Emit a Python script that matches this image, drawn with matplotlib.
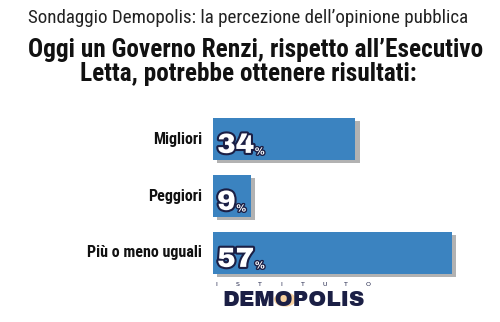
import matplotlib
matplotlib.use("Agg")
import matplotlib.pyplot as plt
import matplotlib.patheffects as pe
from matplotlib.patches import Circle

categories = ["Migliori", "Peggiori", "Più o meno uguali"]
values = [34, 9, 57]

subtitle = "Sondaggio Demopolis: la percezione dell\u2019opinione pubblica"
title_lines = ["Oggi un Governo Renzi, rispetto all\u2019Esecutivo",
               "Letta, potrebbe ottenere risultati:"]

bar_color = "#3b83c0"
navy = "#1b1f45"
narrow = ["Roboto Condensed", "Archivo Narrow", "DejaVu Sans"]
black = ["Archivo Black", "DejaVu Sans"]

W, H = 500, 322
fig = plt.figure(figsize=(W / 100, H / 100), dpi=100)
fig.patch.set_facecolor("white")

# bars area: left edge at x=213px, 4.19 px per percent
left, right = 213, 213 + 60 * 4.19
top, bottom = 110.5, 281.5
ax = fig.add_axes([left / W, 1 - bottom / H, (right - left) / W, (bottom - top) / H])
ax.set_xlim(0, 60)
ax.set_ylim(2.5, -0.5)
ax.axis("off")

ypos = list(range(len(categories)))
bars = ax.barh(ypos, values, height=0.74, color=bar_color, zorder=2)
for b in bars:
    b.set_path_effects([pe.SimplePatchShadow(offset=(3, -2), shadow_rgbFace="#555555", alpha=0.45),
                        pe.Normal()])

for y, cat, v in zip(ypos, categories, values):
    ax.annotate(cat, xy=(0, y), xytext=(-8, 0), textcoords="offset points",
                ha="right", va="center", fontsize=11.5, fontweight="bold",
                family=narrow, color="#111111")
    num = ax.annotate(str(v), xy=(0, y), xytext=(3, -10), textcoords="offset points",
                      ha="left", va="baseline", fontsize=20, fontweight="heavy",
                      family=black, color="white", zorder=5,
                      path_effects=[pe.Stroke(linewidth=3, foreground=navy), pe.Normal()])
    ax.annotate("%", xy=(1, 0), xycoords=num, xytext=(0.5, 1), textcoords="offset points",
                ha="left", va="bottom", fontsize=7, fontweight="bold", color="white", zorder=5,
                path_effects=[pe.Stroke(linewidth=2, foreground=navy), pe.Normal()])

fig.text(248.5 / W, 1 - 18 / H, subtitle, ha="center", va="center",
         fontsize=13.7, family=narrow, color="#222222")
fig.text(255.5 / W, 1 - 50 / H, title_lines[0], ha="center", va="center",
         fontsize=18.2, fontweight=900, family=narrow, color="#111111")
fig.text(248.5 / W, 1 - 74 / H, title_lines[1], ha="center", va="center",
         fontsize=18.2, fontweight=900, family=narrow, color="#111111")

# logo
logo_top = "ISTITUTO"
for i, ch in enumerate(logo_top):
    fig.text((216 + i * 152 / (len(logo_top) - 1)) / W, 1 - 285 / H, ch,
             ha="center", va="center", fontsize=4.5, color=navy)
fig.patches.append(Circle((285 / W, 1 - 299.5 / H), 0.022, transform=fig.transFigure,
                          facecolor="#f2a541", edgecolor="none", alpha=0.5, zorder=1))
fig.text(293.5 / W, 1 - 300 / H, "DEMOPOLIS", ha="center", va="center",
         fontsize=15.5, fontweight="heavy", family=black, color=navy, zorder=3)

fig.savefig("out.png", dpi=100, facecolor="white")
